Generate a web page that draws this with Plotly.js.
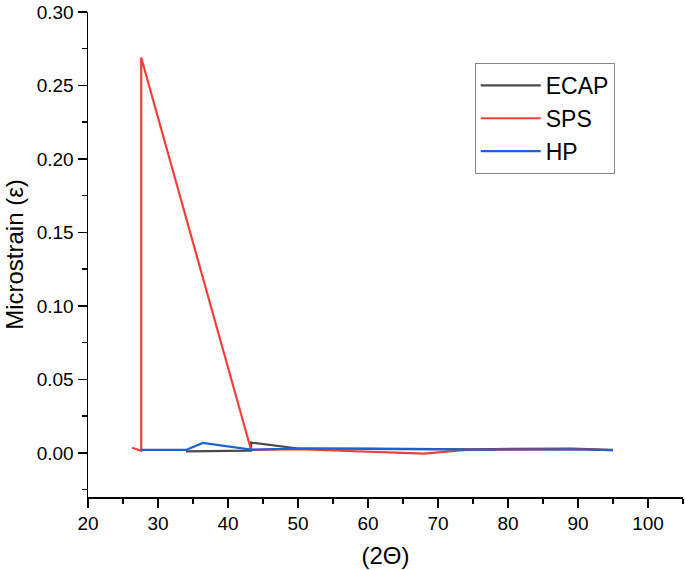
<!DOCTYPE html>
<html>
<head>
<meta charset="utf-8">
<script src="https://cdn.plot.ly/plotly-3.0.1.min.js"></script>
<style>html,body{margin:0;padding:0;background:#fff;}#chart{width:685px;height:570px;}</style>
</head>
<body>
<div id="chart"></div>
<script>
const ecapX = [34.0, 43.3, 43.3, 50.0, 60.0, 75.0, 89.0, 95.0];
const ecapY = [0.0010, 0.0015, 0.0070, 0.0030, 0.0030, 0.0025, 0.0030, 0.0020];
const spsX = [26.3, 27.6, 27.6, 43.3, 50.0, 60.0, 68.0, 74.0, 89.0, 95.0];
const spsY = [0.0035, 0.0015, 0.2690, 0.0020, 0.0025, 0.0010, -0.0005, 0.0020, 0.0025, 0.0018];
const hpX = [27.6, 34.0, 36.4, 43.3, 50.0, 60.0, 70.0, 75.0, 89.0, 95.0];
const hpY = [0.0020, 0.0020, 0.0068, 0.0022, 0.0030, 0.0025, 0.0020, 0.0022, 0.0025, 0.0018];
const seriesNames = ["ECAP", "SPS", "HP"];

const font = "Arial, 'Liberation Sans', sans-serif";
const traces = [
  {x: ecapX, y: ecapY, name: seriesNames[0], mode: 'lines', line: {color: '#4a4a4a', width: 2.2}},
  {x: spsX, y: spsY, name: seriesNames[1], mode: 'lines', line: {color: '#f0403c', width: 2.2}},
  {x: hpX, y: hpY, name: seriesNames[2], mode: 'lines', line: {color: '#1a63d6', width: 2.2}}
];
const layout = {
  width: 685, height: 570,
  margin: {l: 88, r: 2, t: 12, b: 73},
  paper_bgcolor: '#fff', plot_bgcolor: '#fff',
  font: {family: font, color: '#000'},
  showlegend: true,
  legend: {x: 0.65, y: 0.895, xanchor: 'left', yanchor: 'top', bordercolor: '#888', borderwidth: 1,
           itemwidth: 60, font: {size: 23, family: font, color: '#000'}, tracegroupgap: 0, bgcolor: '#fff'},
  xaxis: {range: [20, 105], dtick: 10, tick0: 20, showgrid: false, zeroline: false,
          showline: true, linecolor: '#000', linewidth: 1.5,
          ticks: 'outside', ticklen: 9, tickwidth: 1.5, tickcolor: '#000',
          minor: {ticks: 'outside', dtick: 5, ticklen: 5, tickwidth: 1.5, tickcolor: '#000', showgrid: false},
          tickfont: {size: 19, family: font, color: '#000'},
          title: {text: '(2Θ)', font: {size: 24, family: font, color: '#000'}, standoff: 14}},
  yaxis: {range: [-0.03, 0.30], dtick: 0.05, tick0: 0, tickformat: '.2f', showgrid: false, zeroline: false,
          showline: true, linecolor: '#000', linewidth: 1.5,
          ticks: 'outside', ticklen: 9, tickwidth: 1.5, tickcolor: '#000',
          minor: {ticks: 'outside', dtick: 0.025, ticklen: 5, tickwidth: 1.5, tickcolor: '#000', showgrid: false},
          tickfont: {size: 19, family: font, color: '#000'},
          title: {text: 'Microstrain (ε)', font: {size: 24, family: font, color: '#000'}, standoff: 6}}
};
Plotly.newPlot('chart', traces, layout, {displayModeBar: false, staticPlot: true});
</script>
</body>
</html>
